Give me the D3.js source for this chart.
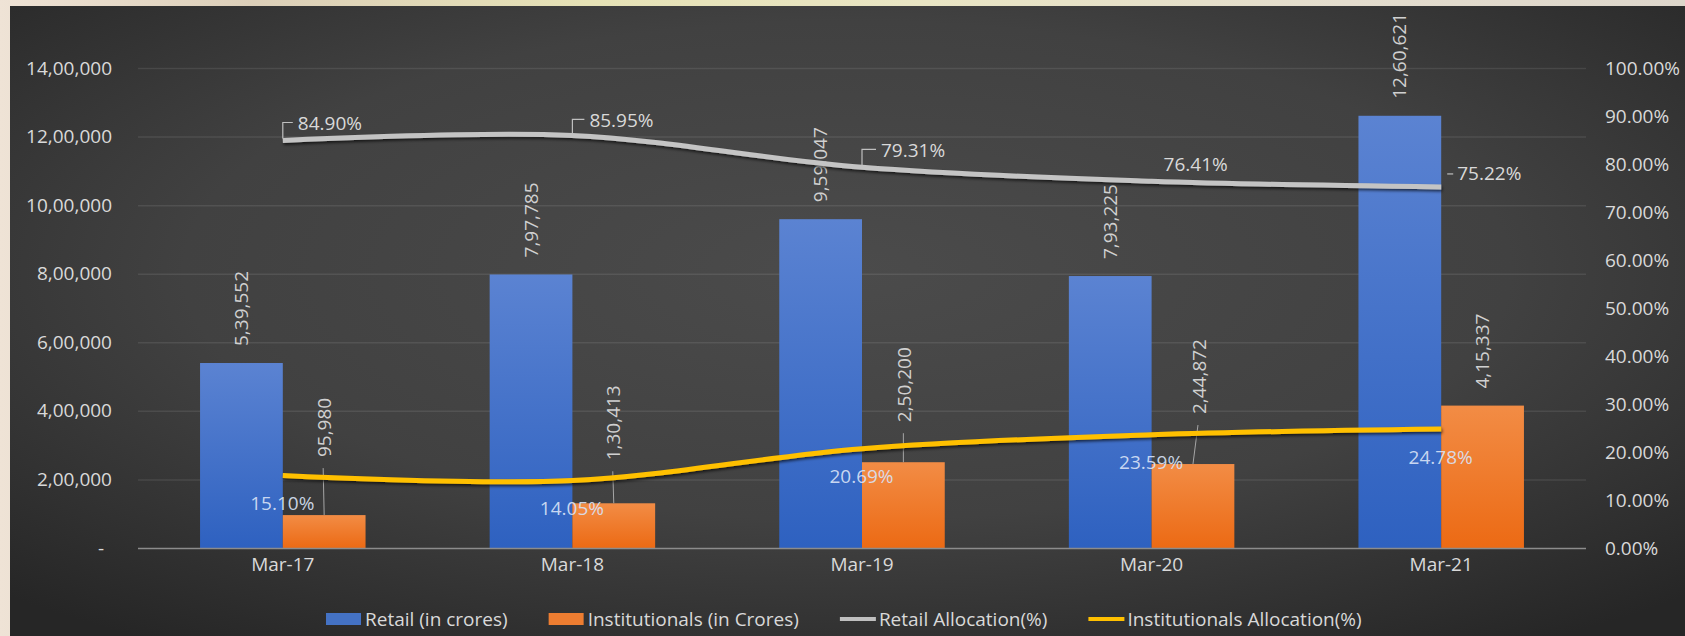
<!DOCTYPE html>
<html>
<head>
<meta charset="utf-8">
<script src="https://cdn.jsdelivr.net/npm/d3@7/dist/d3.min.js"></script>
<style>
  html, body { margin: 0; padding: 0; background: #e9dfd2; }
  svg { display: block; }
  text { font-family: "Open Sans", "Noto Sans", sans-serif; }
</style>
</head>
<body>
<svg id="chart" width="1685" height="636"></svg>
<script>
// ---- data ----
const categories = ["Mar-17", "Mar-18", "Mar-19", "Mar-20", "Mar-21"];
const retail = [539552, 797785, 959047, 793225, 1260621];
const institutional = [95980, 130413, 250200, 244872, 415337];
const retailPct = [0.8490, 0.8595, 0.7931, 0.7641, 0.7522];
const instPct = [0.1510, 0.1405, 0.2069, 0.2359, 0.2478];
const leftTicks = [0, 200000, 400000, 600000, 800000, 1000000, 1200000, 1400000];
const rightTicks = [0, 0.1, 0.2, 0.3, 0.4, 0.5, 0.6, 0.7, 0.8, 0.9, 1.0];
const seriesNames = ["Retail (in crores)", "Institutionals (in Crores)", "Retail Allocation(%)", "Institutionals Allocation(%)"];

// ---- label placement (pixels) ----
const instLabelLift = [58, 43, 40, 50, 17];
const instLabelShift = [0, 0, 1, 6, 0];
const retailPctOffset = [[15, -17, "bracket"], [17, -15, "bracket"], [19, -17, "bracket"], [12, -17, "none"], [16, -14, "tick"]];

const W = 1685, H = 636;
const plot = { left: 138, right: 1586, top: 68, bottom: 548 };

const svg = d3.select("#chart");
const defs = svg.append("defs");

// backdrop behind the panel
const bgGrad = defs.append("linearGradient").attr("id", "backdrop").attr("x1", 0).attr("x2", 1).attr("y1", 0).attr("y2", 0);
[["0%", "#efe3d6"], ["15%", "#dccfb9"], ["35%", "#e6e2b6"], ["55%", "#e9e5c4"], ["80%", "#e3dccd"], ["100%", "#ddd6cb"]]
  .forEach(([o, c]) => bgGrad.append("stop").attr("offset", o).attr("stop-color", c));
svg.append("rect").attr("width", W).attr("height", H).attr("fill", "url(#backdrop)");

// dark panel with vignette
const panelGrad = defs.append("radialGradient").attr("id", "panel").attr("cx", "50%").attr("cy", "42%").attr("r", "72%");
panelGrad.append("stop").attr("offset", "0%").attr("stop-color", "#4b4b4b");
panelGrad.append("stop").attr("offset", "55%").attr("stop-color", "#414141");
panelGrad.append("stop").attr("offset", "100%").attr("stop-color", "#262626");
svg.append("rect").attr("x", 10).attr("y", 6).attr("width", W - 10).attr("height", H - 6).attr("fill", "url(#panel)");

// bar gradients
const blueGrad = defs.append("linearGradient").attr("id", "blueBar").attr("x1", 0).attr("x2", 0).attr("y1", 0).attr("y2", 1);
blueGrad.append("stop").attr("offset", "0%").attr("stop-color", "#5b83d2");
blueGrad.append("stop").attr("offset", "100%").attr("stop-color", "#2e61c0");
const orangeGrad = defs.append("linearGradient").attr("id", "orangeBar").attr("x1", 0).attr("x2", 0).attr("y1", 0).attr("y2", 1);
orangeGrad.append("stop").attr("offset", "0%").attr("stop-color", "#f28c45");
orangeGrad.append("stop").attr("offset", "100%").attr("stop-color", "#ec6a14");

const shadow = defs.append("filter").attr("id", "lineShadow").attr("x", "-5%").attr("y", "-50%").attr("width", "110%").attr("height", "200%");
shadow.append("feDropShadow").attr("dx", 1).attr("dy", 2).attr("stdDeviation", 1.5).attr("flood-color", "#000").attr("flood-opacity", 0.65);

// ---- scales ----
const x0 = d3.scaleBand().domain(categories).range([plot.left, plot.right]).padding(0);
const step = x0.step();
const barW = step / 3.5; // gap width 150%
const x1 = d3.scaleBand().domain(["retail", "inst"]).range([(step - 2 * barW) / 2, (step + 2 * barW) / 2]).padding(0);
const y = d3.scaleLinear().domain([0, 1400000]).range([plot.bottom, plot.top]);
const y2 = d3.scaleLinear().domain([0, 1]).range([plot.bottom, plot.top]);
const cx = c => x0(c) + step / 2;

// Indian digit grouping: 12,60,621
function indian(n) {
  const s = Math.round(n).toString();
  if (s.length <= 3) return s;
  const last3 = s.slice(-3);
  let rest = s.slice(0, -3);
  const parts = [];
  while (rest.length > 2) { parts.unshift(rest.slice(-2)); rest = rest.slice(0, -2); }
  if (rest.length) parts.unshift(rest);
  return parts.join(",") + "," + last3;
}
const pct = d3.format(".2%");

const textColor = "#d9d9d9";

// gridlines
svg.append("g").selectAll("line").data(leftTicks.filter(d => d > 0)).join("line")
  .attr("x1", plot.left).attr("x2", plot.right)
  .attr("y1", d => y(d) + 0.5).attr("y2", d => y(d) + 0.5)
  .attr("stroke", "#ffffff").attr("stroke-opacity", 0.09).attr("stroke-width", 1.5);

// left axis
const leftAxis = d3.axisLeft(y).tickValues(leftTicks).tickSize(0).tickPadding(0)
  .tickFormat(d => d === 0 ? "-" : indian(d));
const gL = svg.append("g").attr("transform", `translate(112,0)`).call(leftAxis);
gL.select(".domain").remove();
gL.selectAll("text").attr("fill", textColor).attr("font-size", 19)
  .attr("font-family", "Open Sans").attr("dx", d => d === 0 ? -8 : 0);

// right axis
const rightAxis = d3.axisRight(y2).tickValues(rightTicks).tickSize(0).tickPadding(0).tickFormat(pct);
const gR = svg.append("g").attr("transform", `translate(1605,0)`).call(rightAxis);
gR.select(".domain").remove();
gR.selectAll("text").attr("fill", textColor).attr("font-size", 19).attr("font-family", "Open Sans");

// bottom axis
const bottomAxis = d3.axisBottom(x0).tickSize(0).tickPadding(0);
const gB = svg.append("g").attr("transform", `translate(0,${plot.bottom})`).call(bottomAxis);
gB.select(".domain").remove();
gB.selectAll("text").attr("fill", textColor).attr("font-size", 19).attr("font-family", "Open Sans").attr("dy", "1.2em");

// bars
const rows = categories.map((c, i) => ({ c, i, retail: retail[i], inst: institutional[i] }));
const bars = svg.append("g");
bars.selectAll("rect.retail").data(rows).join("rect").attr("class", "retail")
  .attr("x", d => x0(d.c) + x1("retail")).attr("width", x1.bandwidth())
  .attr("y", d => y(d.retail)).attr("height", d => y(0) - y(d.retail))
  .attr("fill", "url(#blueBar)");
bars.selectAll("rect.inst").data(rows).join("rect").attr("class", "inst")
  .attr("x", d => x0(d.c) + x1("inst")).attr("width", x1.bandwidth())
  .attr("y", d => y(d.inst)).attr("height", d => y(0) - y(d.inst))
  .attr("fill", "url(#orangeBar)");

// baseline
svg.append("line").attr("x1", plot.left).attr("x2", plot.right)
  .attr("y1", plot.bottom + 0.5).attr("y2", plot.bottom + 0.5)
  .attr("stroke", "#8c8c8c").attr("stroke-width", 1.5);

// retail value labels (rotated)
svg.append("g").selectAll("text").data(rows).join("text")
  .attr("transform", d => `translate(${x0(d.c) + x1("retail") + barW / 2},${y(d.retail) - 17}) rotate(-90)`)
  .attr("dy", "0.35em").attr("text-anchor", "start")
  .attr("fill", "#d0d0d0").attr("font-size", 19).text(d => indian(d.retail));

// institutional value labels with leader lines
const instLab = svg.append("g");
instLab.selectAll("line").data(rows.filter(d => instLabelLift[d.i] > 25)).join("line")
  .attr("x1", d => x0(d.c) + x1("inst") + barW / 2).attr("y1", d => y(d.inst))
  .attr("x2", d => x0(d.c) + x1("inst") + barW / 2 + instLabelShift[d.i] - 1)
  .attr("y2", d => y(d.inst) - instLabelLift[d.i] + 11)
  .attr("stroke", "#a6a6a6").attr("stroke-width", 1);
instLab.selectAll("text").data(rows).join("text")
  .attr("transform", d => `translate(${x0(d.c) + x1("inst") + barW / 2 + instLabelShift[d.i]},${y(d.inst) - instLabelLift[d.i]}) rotate(-90)`)
  .attr("dy", "0.35em").attr("text-anchor", "start")
  .attr("fill", "#d0d0d0").attr("font-size", 19).text(d => indian(d.inst));

// allocation lines (smoothed)
const allocLine = d3.line().x((d, i) => cx(categories[i])).y(d => y2(d)).curve(d3.curveCatmullRom.alpha(0.5));
svg.append("path").datum(retailPct).attr("d", allocLine)
  .attr("fill", "none").attr("stroke", "#c4c4c4").attr("stroke-width", 5)
  .attr("stroke-linecap", "butt").attr("filter", "url(#lineShadow)");
svg.append("path").datum(instPct).attr("d", allocLine)
  .attr("fill", "none").attr("stroke", "#ffc000").attr("stroke-width", 5)
  .attr("stroke-linecap", "butt").attr("filter", "url(#lineShadow)");

// retail allocation labels with leaders
const rp = svg.append("g");
retailPct.forEach((v, i) => {
  const px = cx(categories[i]), py = y2(v);
  const [dx, dy, kind] = retailPctOffset[i];
  if (kind === "bracket") {
    rp.append("path").attr("d", `M${px},${py - 2}V${py + dy - 1}H${px + dx - 5}`)
      .attr("fill", "none").attr("stroke", "#bfbfbf").attr("stroke-width", 1.2);
  } else if (kind === "tick") {
    rp.append("path").attr("d", `M${px + 6},${py + dy + 1}H${px + dx - 4}`)
      .attr("fill", "none").attr("stroke", "#bfbfbf").attr("stroke-width", 1.2);
  }
  rp.append("text").attr("x", px + dx).attr("y", py + dy).attr("dy", "0.35em")
    .attr("fill", textColor).attr("font-size", 19).text(pct(v));
});

// institutional allocation labels
svg.append("g").selectAll("text").data(instPct).join("text")
  .attr("x", (d, i) => cx(categories[i]) - 0.5).attr("y", d => y2(d) + 28).attr("dy", "0.35em")
  .attr("text-anchor", "middle").attr("fill", "#d8e2f6").attr("fill-opacity", 0.92)
  .attr("font-size", 19).text(d => pct(d));

// legend
const legend = svg.append("g").attr("transform", "translate(326,619)");
let lx = 0;
seriesNames.forEach((name, i) => {
  const g = legend.append("g").attr("transform", `translate(${lx},0)`);
  if (i < 2) {
    g.append("rect").attr("x", 0).attr("y", -6).attr("width", 35).attr("height", 12)
      .attr("fill", i === 0 ? "#4472c4" : "#ed7d31");
  } else {
    g.append("line").attr("x1", 0).attr("x2", 36).attr("y1", 0).attr("y2", 0)
      .attr("stroke", i === 2 ? "#bfbfbf" : "#ffc000").attr("stroke-width", 4);
  }
  const t = g.append("text").attr("x", 39).attr("dy", "0.35em")
    .attr("fill", textColor).attr("font-size", 19).text(name);
  lx += 39 + t.node().getComputedTextLength() + 41;
});
</script>
</body>
</html>
